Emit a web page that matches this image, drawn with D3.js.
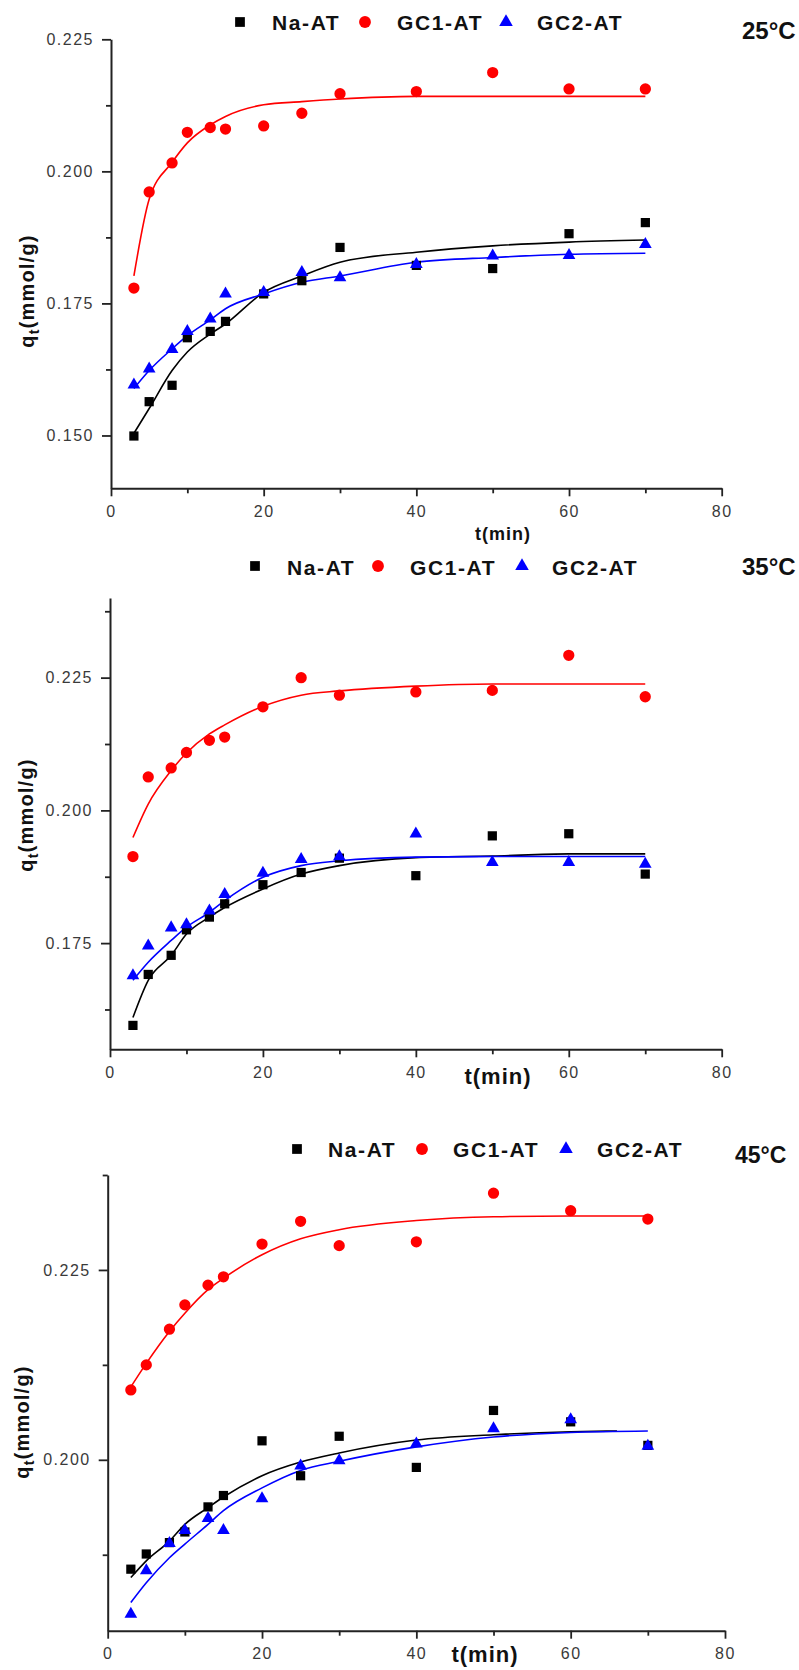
<!DOCTYPE html>
<html><head><meta charset="utf-8">
<script src="https://cdn.jsdelivr.net/npm/d3@7"></script>
<style>
html,body{margin:0;padding:0;background:#fff;}
svg{display:block;}
</style></head>
<body>
<svg id="chart" width="799" height="1670"></svg>
<script>
// ---------- data ----------
const times = [3,5,8,10,13,15,20,25,30,40,50,60,70];
const fitTimes = [3,5,8,10,13,15,20,25,30,40,50,60,70];
const fitTimesNa45 = [3,5,8,10,13,15,20,25,30,40,50,60,66];
const seriesNames = ["Na-AT","GC1-AT","GC2-AT"];
const temperatures = ["25°C","35°C","45°C"];
const xTickValues = [0,20,40,60,80];
const xMinorTicks = [10,30,50,70];

// 25 °C
const na25  = [0.1499,0.1564,0.1595,0.1685,0.1697,0.1716,0.1768,0.1793,0.1856,0.1822,0.1816,0.1882,0.1903];
const gc1_25 = [0.1779,0.1961,0.2016,0.2074,0.2083,0.2080,0.2086,0.2110,0.2147,0.2151,0.2187,0.2156,0.2156];
const gc2_25 = [0.1596,0.1626,0.1663,0.1697,0.1721,0.1768,0.1771,0.1809,0.1799,0.1824,0.1840,0.1841,0.1862];
const fitNa25  = [0.1504,0.1551,0.1623,0.1658,0.1692,0.1711,0.1771,0.1802,0.1828,0.1847,0.1859,0.1866,0.1870];
const fitGc1_25 = [0.1802,0.1947,0.2017,0.2054,0.2088,0.2104,0.2126,0.2132,0.2137,0.2142,0.2142,0.2142,0.2142];
const fitGc2_25 = [0.1589,0.1623,0.1664,0.1689,0.1719,0.1740,0.1768,0.1790,0.1802,0.1828,0.1837,0.1843,0.1845];
const yTicks25 = [0.150,0.175,0.200,0.225];
const yMinor25 = [0.1625,0.1875,0.2125];

// 35 °C
const na35  = [0.1595,0.1691,0.1727,0.1775,0.1799,0.1824,0.1860,0.1883,0.1910,0.1877,0.1952,0.1956,0.1880];
const gc1_35 = [0.1913,0.2063,0.2080,0.2109,0.2132,0.2138,0.2195,0.2250,0.2217,0.2223,0.2226,0.2292,0.2214];
const gc2_35 = [0.1689,0.1745,0.1779,0.1785,0.1811,0.1842,0.1882,0.1908,0.1913,0.1956,0.1902,0.1902,0.1899];
const fitNa35  = [0.1610,0.1680,0.1727,0.1767,0.1799,0.1817,0.1852,0.1880,0.1896,0.1911,0.1914,0.1918,0.1918];
const fitGc1_35 = [0.1949,0.2012,0.2075,0.2108,0.2144,0.2161,0.2196,0.2217,0.2225,0.2234,0.2238,0.2238,0.2238];
const fitGc2_35 = [0.1680,0.1714,0.1755,0.1780,0.1808,0.1830,0.1874,0.1896,0.1905,0.1912,0.1913,0.1913,0.1913];
const yTicks35 = [0.175,0.200,0.225];
const yMinor35 = [0.1625,0.1875,0.2125,0.2375];

// 45 °C
const na45  = [0.1856,0.1876,0.1891,0.1905,0.1938,0.1953,0.2025,0.1979,0.2031,0.1990,0.2065,0.2050,0.2019];
const gc1_45 = [0.2092,0.2125,0.2172,0.2204,0.2230,0.2241,0.2284,0.2314,0.2282,0.2287,0.2351,0.2328,0.2317];
const gc2_45 = [0.1797,0.1854,0.1890,0.1907,0.1923,0.1907,0.1949,0.1992,0.1999,0.2021,0.2041,0.2053,0.2018];
const fitNa45  = [0.1845,0.1867,0.1893,0.1915,0.1937,0.1951,0.1979,0.1997,0.2009,0.2026,0.2033,0.2037,0.2038];
const fitGc1_45 = [0.2096,0.2127,0.2169,0.2193,0.2224,0.2239,0.2270,0.2291,0.2303,0.2315,0.2320,0.2321,0.2321];
const fitGc2_45 = [0.1812,0.1838,0.1871,0.1889,0.1915,0.1933,0.1963,0.1986,0.1998,0.2017,0.2030,0.2036,0.2038];
const yTicks45 = [0.200,0.225];
const yMinor45 = [0.1875,0.2125,0.2375];

// ---------- layout ----------
const panels = [
  { temp: temperatures[0], na: na25, gc1: gc1_25, gc2: gc2_25,
    fitNa: fitNa25, fitGc1: fitGc1_25, fitGc2: fitGc2_25, fitNaT: fitTimes,
    yDomain: [0.14, 0.225], yTicks: yTicks25, yMinor: yMinor25,
    left: 111, right: 721.7, top: 39.3, bottom: 488.3,
    legY: 22, legBase: 30, legMarks: [240, 365, 506], legTexts: [272, 397, 537], legSize: 21,
    titleX: 742, titleY: 39, titleSize: 24,
    xlabX: 503, xlabY: 540, xlabSize: 18,
    ylabX: 34, ylabY: 291 },
  { temp: temperatures[1], na: na35, gc1: gc1_35, gc2: gc2_35,
    fitNa: fitNa35, fitGc1: fitGc1_35, fitGc2: fitGc2_35, fitNaT: fitTimes,
    yDomain: [0.155, 0.24], yTicks: yTicks35, yMinor: yMinor35,
    left: 110, right: 721.7, top: 598, bottom: 1049.3,
    legY: 566, legBase: 575, legMarks: [255, 378, 522], legTexts: [287, 410, 552], legSize: 21,
    titleX: 742, titleY: 575, titleSize: 24,
    xlabX: 498, xlabY: 1084, xlabSize: 22,
    ylabX: 33, ylabY: 815 },
  { temp: temperatures[2], na: na45, gc1: gc1_45, gc2: gc2_45,
    fitNa: fitNa45, fitGc1: fitGc1_45, fitGc2: fitGc2_45, fitNaT: fitTimesNa45,
    yDomain: [0.1775, 0.2375], yTicks: yTicks45, yMinor: yMinor45,
    left: 107.7, right: 725, top: 1175, bottom: 1630.7,
    legY: 1149, legBase: 1157, legMarks: [297, 422, 566], legTexts: [328, 453, 597], legSize: 21,
    titleX: 735, titleY: 1163, titleSize: 23,
    xlabX: 485, xlabY: 1662, xlabSize: 22,
    ylabX: 29, ylabY: 1422 }
];

const colors = ["#000000", "#ff0000", "#0000ff"];
const symbols = [d3.symbolSquare, d3.symbolCircle, d3.symbolTriangle];
const symSizes = [85, 100, 70];
const FONT = "'Liberation Sans', Arial, Helvetica, sans-serif";

const svg = d3.select("#chart");

panels.forEach(p => {
  const x = d3.scaleLinear().domain([0, 80]).range([p.left, p.right]);
  const y = d3.scaleLinear().domain(p.yDomain).range([p.bottom, p.top]);
  const g = svg.append("g");

  // axes: minor ticks
  g.append("g").attr("transform", `translate(0,${p.bottom})`)
    .call(d3.axisBottom(x).tickValues(xMinorTicks).tickSize(5).tickFormat(""))
    .call(s => s.select(".domain").remove());
  g.append("g").attr("transform", `translate(${p.left},0)`)
    .call(d3.axisLeft(y).tickValues(p.yMinor).tickSize(5).tickFormat(""))
    .call(s => s.select(".domain").remove());

  // major axes
  g.append("g").attr("transform", `translate(0,${p.bottom})`)
    .call(d3.axisBottom(x).tickValues(xTickValues).tickSize(8).tickSizeOuter(0).tickPadding(9).tickFormat(d3.format("d")));
  g.append("g").attr("transform", `translate(${p.left},0)`)
    .call(d3.axisLeft(y).tickValues(p.yTicks).tickSize(9).tickSizeOuter(0).tickPadding(8).tickFormat(d3.format(".3f")));

  g.selectAll(".domain").attr("stroke", "#222").attr("stroke-width", 2);
  g.selectAll(".tick line").attr("stroke", "#222").attr("stroke-width", 1.8);
  g.selectAll(".tick text").attr("font-family", FONT).attr("font-size", 16)
    .attr("fill", "#3a3a3a").attr("letter-spacing", "1.5px");

  // fitted curves
  const line = d3.line().x(d => x(d[0])).y(d => y(d[1])).curve(d3.curveMonotoneX);
  const fits = [
    d3.zip(p.fitNaT, p.fitNa),
    d3.zip(fitTimes, p.fitGc1),
    d3.zip(fitTimes, p.fitGc2)
  ];
  fits.forEach((f, i) => {
    g.append("path").datum(f).attr("d", line)
      .attr("fill", "none").attr("stroke", colors[i]).attr("stroke-width", 1.6);
  });

  // markers
  const data = [p.na, p.gc1, p.gc2];
  [0, 1, 2].forEach(i => {
    g.append("g").selectAll("path").data(d3.zip(times, data[i])).join("path")
      .attr("transform", d => `translate(${x(d[0])},${y(d[1])})`)
      .attr("d", d3.symbol().type(symbols[i]).size(symSizes[i]))
      .attr("fill", colors[i]);
  });

  // legend
  seriesNames.forEach((name, i) => {
    g.append("path")
      .attr("transform", `translate(${p.legMarks[i]},${p.legY})`)
      .attr("d", d3.symbol().type(symbols[i]).size(symSizes[i] + 10))
      .attr("fill", colors[i]);
    g.append("text").attr("x", p.legTexts[i]).attr("y", p.legBase)
      .attr("font-family", FONT).attr("font-weight", "bold").attr("font-size", p.legSize)
      .attr("letter-spacing", "1.6px").attr("fill", "#111").text(name);
  });

  // temperature
  g.append("text").attr("x", p.titleX).attr("y", p.titleY)
    .attr("font-family", FONT).attr("font-weight", "bold").attr("font-size", p.titleSize)
    .attr("fill", "#111").text(p.temp);

  // x label
  g.append("text").attr("x", p.xlabX).attr("y", p.xlabY).attr("text-anchor", "middle")
    .attr("font-family", FONT).attr("font-weight", "bold").attr("font-size", p.xlabSize)
    .attr("letter-spacing", "1px").attr("fill", "#111").text("t(min)");

  // y label
  const yl = g.append("text")
    .attr("transform", `translate(${p.ylabX},${p.ylabY}) rotate(-90)`)
    .attr("text-anchor", "middle")
    .attr("font-family", FONT).attr("font-weight", "bold").attr("font-size", 20)
    .attr("letter-spacing", "1.2px").attr("fill", "#111");
  yl.append("tspan").text("q");
  yl.append("tspan").attr("dy", 5).attr("font-size", 14).text("t");
  yl.append("tspan").attr("dy", -5).text("(mmol/g)");
});
</script>
</body></html>
